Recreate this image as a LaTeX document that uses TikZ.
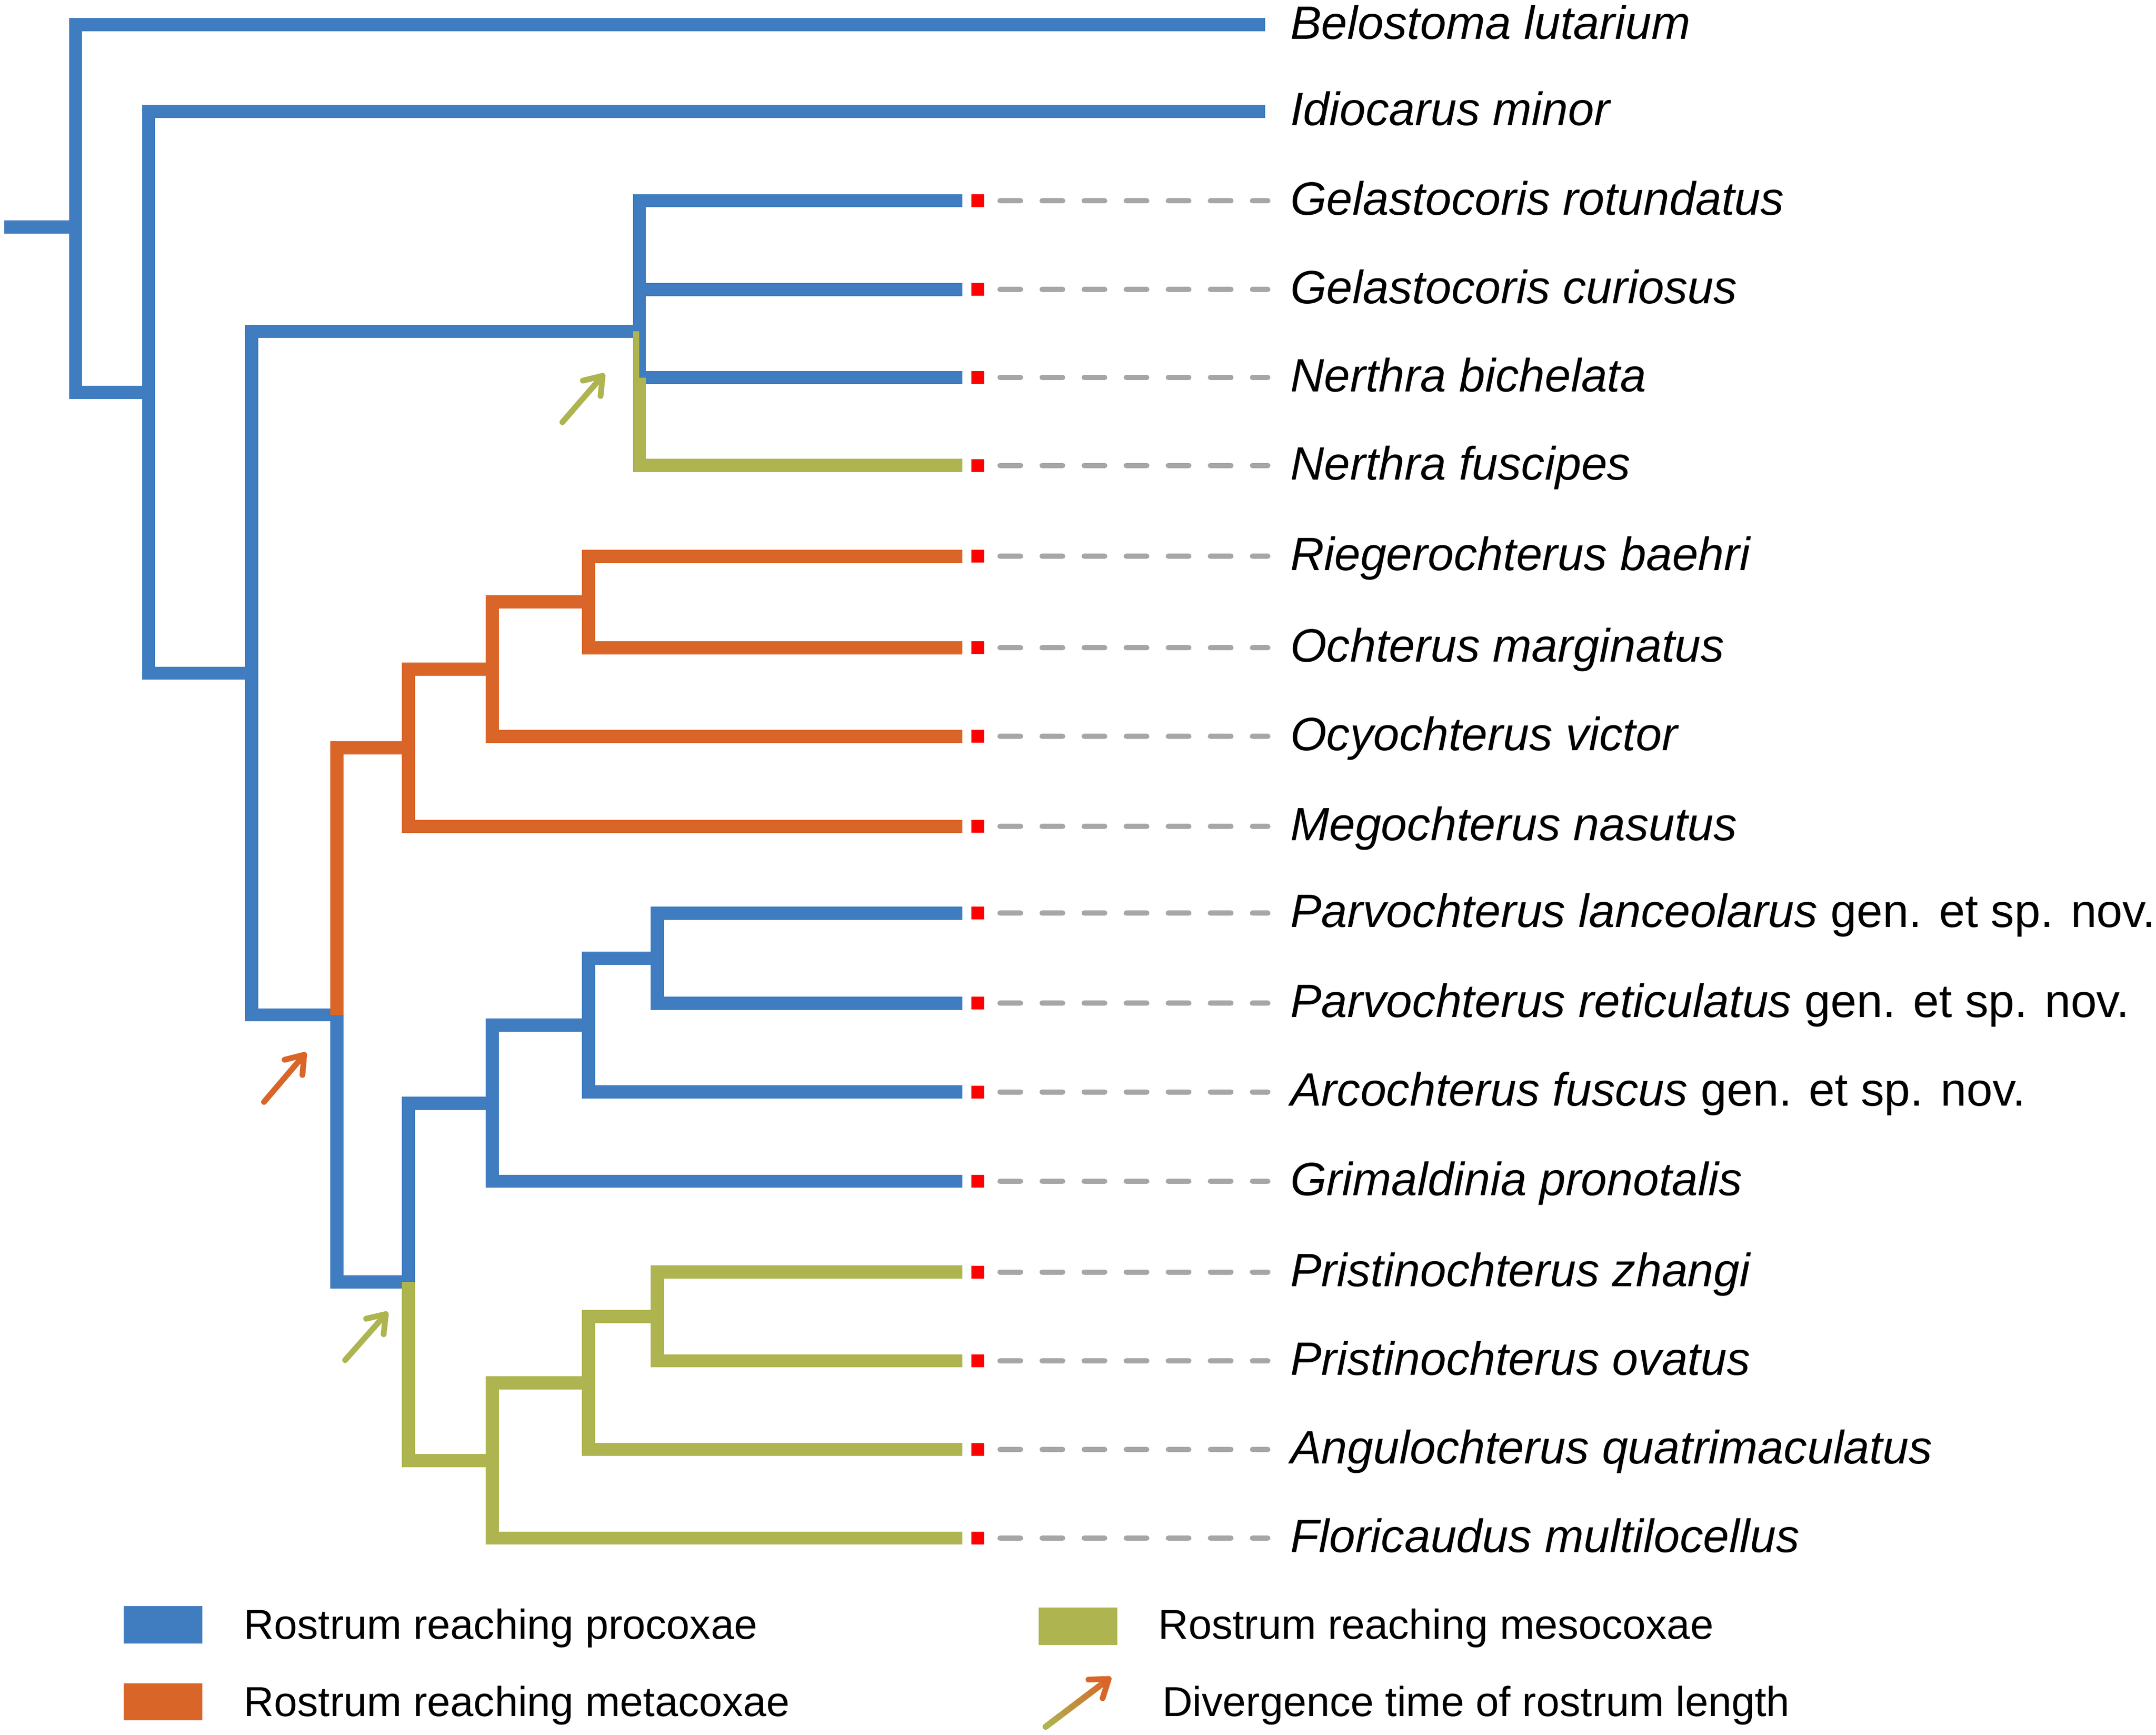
\documentclass[tikz,border=0pt]{standalone}
\usepackage{fontspec}
\setmainfont{Liberation Sans}
\usetikzlibrary{arrows.meta, calc}
\definecolor{procox}{RGB}{63,124,192}
\definecolor{metacox}{RGB}{217,102,40}
\definecolor{mesocox}{RGB}{173,180,80}
\definecolor{tipred}{RGB}{255,0,0}
\definecolor{leadgrey}{RGB}{166,166,166}

\begin{document}
\begin{tikzpicture}[x=0.5pt, y=-0.5pt,
    br/.style={line width=4.75pt, line join=miter},
    taxon/.style={anchor=base west, inner sep=0pt, font=\fontsize{17pt}{20pt}\selectfont\itshape},
    legtext/.style={anchor=base west, inner sep=0pt, font=\fontsize{15.2pt}{18pt}\selectfont},
    legbox/.style={minimum width=28.5pt, minimum height=13.5pt, inner sep=0pt},
    tipsq/.style={fill=tipred, minimum width=4.6pt, minimum height=4.65pt, inner sep=0pt},
    leader/.style={leadgrey, line width=1.9pt, line cap=round, dash pattern=on 7.45pt off 7.85pt},
    divarr/.style={line width=2.1pt, line cap=round, -{Straight Barb[length=6pt, width=8.5pt, round]}}]
  \useasboundingbox (0,0) rectangle (1568,1261.3);

  % taxa
  \foreach \i/\y/\txt in {1/18/Belostoma lutarium, 2/81/Idiocarus minor,
      3/146/Gelastocoris rotundatus, 4/210.5/Gelastocoris curiosus,
      5/274.5/Nerthra bichelata, 6/338.5/Nerthra fuscipes,
      7/404.5/Riegerochterus baehri, 8/471/Ochterus marginatus,
      9/535.5/Ocyochterus victor, 10/601/Megochterus nasutus,
      11/664/{Parvochterus lanceolarus \textup{gen. et sp. nov.}},
      12/729.5/{Parvochterus reticulatus \textup{gen. et sp. nov.}},
      13/794/{Arcochterus fuscus \textup{gen. et sp. nov.}},
      14/859/Grimaldinia pronotalis, 15/925/Pristinochterus zhangi,
      16/989.5/Pristinochterus ovatus, 17/1054/Angulochterus quatrimaculatus,
      18/1118.5/Floricaudus multilocellus}
    \node[taxon] (s\i) at (938,\y+10.3) {\txt};

  % tips
  \coordinate (t1) at (920,18);
  \coordinate (t2) at (920,81);
  \foreach \i/\y in {3/146, 4/210.5, 5/274.5, 6/338.5, 7/404.5, 8/471, 9/535.5,
      10/601, 11/664, 12/729.5, 13/794, 14/859, 15/925, 16/989.5, 17/1054, 18/1118.5} {
    \coordinate (t\i) at (700,\y);
    \node[tipsq] (q\i) at ([xshift=5.5pt]t\i) {};
    \draw[leader, shorten >=8pt] ([xshift=5.65pt]q\i.east) -- (q\i -| s\i.west);
  }

  % nodes of the tree
  \coordinate (root) at (3,165);
  \coordinate (nA) at (55,165);
  \coordinate (nB) at (108,285.25);
  \coordinate (nC) at (183,489.5);
  \coordinate (nD) at (465,241);
  \coordinate (nE) at (245,738);
  \coordinate (nF) at (297,543.8);
  \coordinate (nG) at (358,486.6);
  \coordinate (nH) at (428,437.75);
  \coordinate (nI) at (297,932.1);
  \coordinate (nJ) at (358,802.2);
  \coordinate (nK) at (428,745.4);
  \coordinate (nL) at (478,696.75);
  \coordinate (nM) at (358,1062.1);
  \coordinate (nN) at (428,1005.6);
  \coordinate (nO) at (478,957.25);

  % branches
  \draw[br, procox] (root) -- (nA);
  \draw[br, procox] (t1) -| (nA) |- (nB);
  \draw[br, procox] (t2) -| (nB) |- (nC);
  \draw[br, procox] (nD) -| (nC) |- (nE);
  \draw[br, procox] (t3) -| (nD) |- (t5);
  \draw[br, procox] (t4) -- (t4 -| nD);
  \draw[br, mesocox] (t5 -| nD) |- (t6);
  \draw[mesocox, line width=2.3pt] ([xshift=-1.15pt]nD) -- ([xshift=-1.15pt]t5 -| nD);

  \draw[br, metacox] (nF) -| (nE);
  \draw[br, procox] (nE) |- (nI);
  \draw[br, metacox] (nG) -| (nF) |- (t10);
  \draw[br, metacox] (nH) -| (nG) |- (t9);
  \draw[br, metacox] (t7) -| (nH) |- (t8);

  \draw[br, procox] (nJ) -| (nI);
  \draw[br, mesocox] (nI) |- (nM);
  \draw[br, procox] (nK) -| (nJ) |- (t14);
  \draw[br, procox] (nL) -| (nK) |- (t13);
  \draw[br, procox] (t11) -| (nL) |- (t12);
  \draw[br, mesocox] (nN) -| (nM) |- (t18);
  \draw[br, mesocox] (nO) -| (nN) |- (t17);
  \draw[br, mesocox] (t15) -| (nO) |- (t16);

  % divergence arrows
  \coordinate (ga1) at (409,307);
  \coordinate (ga2) at (439.6,271.7);
  \coordinate (oa1) at (192,801.3);
  \coordinate (oa2) at (222.6,765.4);
  \coordinate (gb1) at (251,989);
  \coordinate (gb2) at (282,954);
  \draw[divarr, mesocox] (ga1) -- (ga2);
  \draw[divarr, metacox] (oa1) -- (oa2);
  \draw[divarr, mesocox] (gb1) -- (gb2);

  % legend
  \node[legbox, fill=procox] (kpro) at (118.5,1181.5) {};
  \node[legtext] (lpro) at (177,1192) {Rostrum reaching procoxae};
  \node[legbox, fill=metacox] (kmeta) at (118.5,1237.5) {};
  \node[legtext] (lmeta) at (177,1248) {Rostrum reaching metacoxae};
  \node[legbox, fill=mesocox] (kmeso) at (784,1182.5) {};
  \node[legtext] (lmeso) at (842,1192) {Rostrum reaching mesocoxae};
  \coordinate (la) at (760.5,1255.6);
  \coordinate (lb) at (808,1219.6);
  \foreach \k [evaluate=\k as \p using 100-11*\k, evaluate=\k as \s using \k/10,
      evaluate=\k as \e using (\k+1)/10] in {0,...,8}
    \draw[line width=2.25pt, line cap=round, mesocox!\p!metacox] ($(la)!\s!(lb)$) -- ($(la)!\e!(lb)$);
  \draw[divarr, metacox] ($(la)!0.9!(lb)$) -- (lb);
  \node[legtext] (ldiv) at (845,1248) {Divergence time of rostrum length};
\end{tikzpicture}
\end{document}
